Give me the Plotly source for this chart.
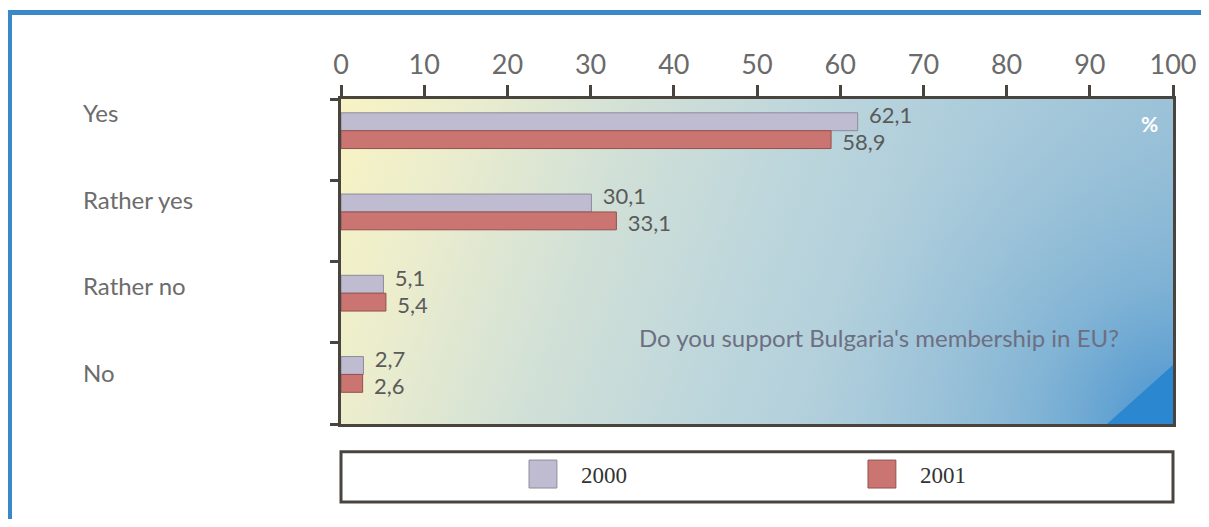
import base64
import plotly.graph_objects as go

categories = ["Yes", "Rather yes", "Rather no", "No"]
years = ["2000", "2001"]
values_2000 = [62.1, 30.1, 5.1, 2.7]
values_2001 = [58.9, 33.1, 5.4, 2.6]
x_ticks = [0, 10, 20, 30, 40, 50, 60, 70, 80, 90, 100]
question = "Do you support Bulgaria's membership in EU?"

colors = {"2000": "#bfbcd2", "2001": "#ca7572"}
edge_colors = {"2000": "#8d8b99", "2001": "#94504d"}
pos = list(range(len(categories)))

# gradient background for the plot area (SVG image)
svg = (
    '<svg xmlns="http://www.w3.org/2000/svg" width="832" height="325" '
    'viewBox="0 0 832 325" preserveAspectRatio="none">'
    '<defs>'
    '<linearGradient id="g" gradientUnits="userSpaceOnUse" x1="0" y1="0" x2="832" y2="300">'
    '<stop offset="0" stop-color="#f8f3c3"/>'
    '<stop offset="0.15" stop-color="#e9ecce"/>'
    '<stop offset="0.3" stop-color="#d3e1d6"/>'
    '<stop offset="0.5" stop-color="#bdd6dc"/>'
    '<stop offset="0.7" stop-color="#aacbdb"/>'
    '<stop offset="0.9" stop-color="#9cc2d8"/>'
    '<stop offset="1" stop-color="#94bdd7"/>'
    '</linearGradient>'
    '<radialGradient id="r" gradientUnits="userSpaceOnUse" cx="832" cy="325" r="360">'
    '<stop offset="0" stop-color="#3a8bcf" stop-opacity="0.85"/>'
    '<stop offset="0.4" stop-color="#5a9ed0" stop-opacity="0.4"/>'
    '<stop offset="1" stop-color="#8fbbd6" stop-opacity="0"/>'
    '</radialGradient>'
    '</defs>'
    '<rect x="0" y="0" width="832" height="325" fill="url(#g)"/>'
    '<rect x="0" y="0" width="832" height="325" fill="url(#r)"/>'
    '<polygon points="766,325 832,266 832,325" fill="#2a87d0"/>'
    '</svg>'
)
svg_uri = "data:image/svg+xml;base64," + base64.b64encode(svg.encode()).decode()

fig = go.Figure()
series = [(years[0], values_2000, -0.33), (years[1], values_2001, -0.11)]
for name, vals, off in series:
    fig.add_trace(go.Bar(
        name=name, y=pos, x=vals, orientation="h",
        width=0.22, offset=off,
        marker=dict(color=colors[name], line=dict(color=edge_colors[name], width=1)),
        hoverinfo="x+name", showlegend=False,
    ))
# value labels, spread slightly apart like the original
label_shift = {years[0]: -0.27, years[1]: 0.06}
for name, vals, off in series:
    fig.add_trace(go.Scatter(
        y=[p + label_shift[name] for p in pos], x=vals, mode="text",
        texttemplate="  %{x:.1f}", textposition="middle right",
        textfont=dict(family="Lato", size=22, color="#5a5a5a"),
        cliponaxis=False, showlegend=False, hoverinfo="skip",
    ))

annotations = []
for i, c in enumerate(categories):
    annotations.append(dict(
        text=c, xref="paper", yref="y", x=-0.3125, y=-0.33 + 1.065 * i,
        xanchor="left", yanchor="middle", showarrow=False,
        font=dict(family="Lato", size=24, color="#6c6c6c"),
    ))
annotations.append(dict(
    text=question, xref="paper", yref="paper", x=0.3558, y=0.265,
    xanchor="left", yanchor="middle", showarrow=False,
    font=dict(family="Lato", size=24, color="#6d6f82"),
))
annotations.append(dict(
    text="<b>%</b>", xref="paper", yref="paper", x=0.972, y=0.926,
    xanchor="center", yanchor="middle", showarrow=False,
    font=dict(family="Lato", size=21, color="#ffffff"),
))

axis_color = "#4a443e"
shapes = [
    dict(type="rect", xref="paper", yref="paper", x0=0, x1=1, y0=-0.24, y1=-0.085,
         line=dict(color="#4a4440", width=3), fillcolor="white", layer="below"),
    dict(type="rect", xref="paper", yref="paper", x0=-0.3984, x1=1.0385, y0=-0.45, y1=1.266,
         line=dict(color="#3b87c8", width=5), fillcolor="rgba(0,0,0,0)"),
]
# legend with large swatches, built from the series names and colours
legend_x = {years[0]: 0.226, years[1]: 0.6334}
for name in years:
    x0 = legend_x[name]
    shapes.append(dict(type="rect", xref="paper", yref="paper", x0=x0, x1=x0 + 0.0335,
                       y0=-0.197, y1=-0.111, fillcolor=colors[name],
                       line=dict(color=edge_colors[name], width=1)))
    annotations.append(dict(
        text=name, xref="paper", yref="paper", x=x0 + 0.0605, y=-0.158,
        xanchor="left", yanchor="middle", showarrow=False,
        font=dict(family="Liberation Serif", size=23, color="#333333"),
    ))

fig.update_layout(
    width=1201, height=511,
    margin=dict(l=333, r=36, t=91, b=95),
    paper_bgcolor="white", plot_bgcolor="rgba(0,0,0,0)",
    separators=",.",
    barmode="overlay",
    showlegend=False,
    xaxis=dict(side="top", range=[0, 100], tickvals=x_ticks, ticks="outside",
               ticklen=11, tickwidth=3, tickcolor=axis_color, showline=True,
               linewidth=3, linecolor=axis_color, mirror=True, showgrid=False,
               zeroline=False, tickfont=dict(family="Lato", size=27, color="#6a6a6a")),
    yaxis=dict(range=[3.5, -0.5], tickvals=[-0.5, 0.5, 1.5, 2.5, 3.5],
               ticktext=["", "", "", "", ""], ticks="outside", ticklen=8, tickwidth=3,
               tickcolor=axis_color, showline=True, linewidth=3, linecolor=axis_color,
               mirror=True, showgrid=False, zeroline=False),
    images=[dict(source=svg_uri, xref="paper", yref="paper", x=0, y=1, sizex=1, sizey=1,
                 sizing="stretch", layer="below", xanchor="left", yanchor="top")],
    shapes=shapes,
    annotations=annotations,
)

fig.write_html("out.html")
